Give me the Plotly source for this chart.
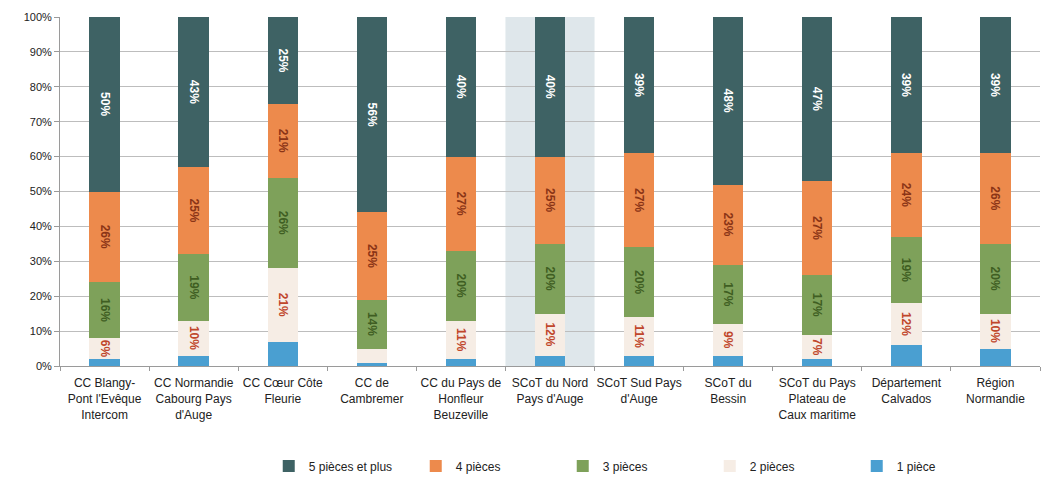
import plotly.graph_objects as go

categories = [
    "CC Blangy-<br>Pont l'Evêque<br>Intercom",
    "CC Normandie<br>Cabourg Pays<br>d'Auge",
    "CC Cœur Côte<br>Fleurie",
    "CC de<br>Cambremer",
    "CC du Pays de<br>Honfleur<br>Beuzeville",
    "SCoT du Nord<br>Pays d'Auge",
    "SCoT Sud Pays<br>d'Auge",
    "SCoT du<br>Bessin",
    "SCoT du Pays<br>Plateau de<br>Caux maritime",
    "Département<br>Calvados",
    "Région<br>Normandie",
]

p1 = [2, 3, 7, 1, 2, 3, 3, 3, 2, 6, 5]
p2 = [6, 10, 21, 4, 11, 12, 11, 9, 7, 12, 10]
p3 = [16, 19, 26, 14, 20, 20, 20, 17, 17, 19, 20]
p4 = [26, 25, 21, 25, 27, 25, 27, 23, 27, 24, 26]
p5 = [50, 43, 25, 56, 40, 40, 39, 48, 47, 39, 39]

# which segments carry a value label
show2 = [True, True, True, False, True, True, True, True, True, True, True]

series = [
    ("1 pièce", p1, "#4a9fd1", None, None),
    ("2 pièces", p2, "#f6ede5", "#c0462b", show2),
    ("3 pièces", p3, "#7ea15a", "#3f5e22", [True] * 11),
    ("4 pièces", p4, "#ed8a4c", "#8a3416", [True] * 11),
    ("5 pièces et plus", p5, "#3e6264", "#ffffff", [True] * 11),
]

fig = go.Figure()
for name, vals, color, tcolor, show in series:
    if show is None:
        text = None
    else:
        text = [f"{round(v)}%" if s else "" for v, s in zip(vals, show)]
    fig.add_trace(go.Bar(
        name=name, x=categories, y=vals,
        marker=dict(color=color, line=dict(width=0)),
        text=text,
        textposition="inside" if text else "none",
        insidetextanchor="middle",
        textangle=90,
        constraintext="none",
        textfont=dict(color=tcolor or "#000", size=12, family="Liberation Sans",
                      weight="bold"),
        hoverinfo="skip",
    ))

fig.add_shape(type="rect", xref="x", yref="y", x0=4.5, x1=5.5, y0=0, y1=100,
              fillcolor="#dfe7eb", line=dict(width=0), layer="below")

fig.update_layout(
    barmode="stack",
    bargap=0.66,
    width=1042, height=483,
    margin=dict(l=60, r=2, t=17, b=117, autoexpand=False),
    paper_bgcolor="white", plot_bgcolor="white",
    font=dict(family="Liberation Sans", size=12, color="#222"),
    legend=dict(orientation="h", traceorder="reversed", x=0.213, xanchor="left",
                y=-0.245, yanchor="top", entrywidth=102, itemwidth=30,
                font=dict(size=12, color="#222"), itemclick=False),
    showlegend=True,
)
fig.update_xaxes(showgrid=False, showline=True, linecolor="#9a9a9a",
                 ticks="outside", tickson="boundaries", ticklen=4, tickcolor="#9a9a9a",
                 tickfont=dict(size=12), tickangle=0, ticklabelstandoff=6)
fig.update_yaxes(range=[0, 100], dtick=10, ticksuffix="%", showgrid=True,
                 gridcolor="#bdbdbd", gridwidth=1, showline=True, linecolor="#9a9a9a",
                 ticks="outside", ticklen=5, tickcolor="#9a9a9a",
                 tickfont=dict(size=11, color="#222"), zeroline=False)

fig.write_html("out.html")
